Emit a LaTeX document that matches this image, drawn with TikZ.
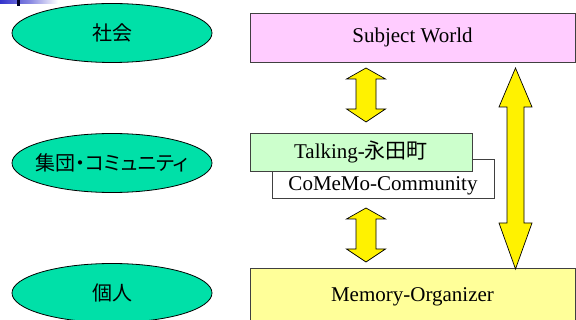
\documentclass[tikz,border=0pt]{standalone}
\usepackage{fontspec}
\setmainfont{Liberation Serif}
\newfontfamily\jp[RawFeature=+palt]{Noto Sans CJK JP}
\definecolor{ellfill}{RGB}{0,224,168}
\definecolor{pinkfill}{RGB}{255,204,255}
\definecolor{greenfill}{RGB}{204,255,204}
\definecolor{yellowfill}{RGB}{255,255,153}
\definecolor{barblue}{RGB}{51,51,204}
\usetikzlibrary{shapes.geometric}
\begin{document}
\begin{tikzpicture}[x=1pt,y=-1pt,
  level/.style={ellipse, draw=black, line width=0.8pt, fill=ellfill,
    minimum width=200pt, minimum height=59pt, inner sep=0pt,
    font=\jp\fontsize{20}{23}\selectfont},
  tbox/.style={draw=black!75, line width=0.8pt, inner sep=0pt,
    font=\fontsize{21}{24}\selectfont},
  barrow/.style={draw=black, line width=0.7pt, fill=yellow, line join=miter}]
\useasboundingbox (0,0) rectangle (576,320);
\fill[white] (0,0) rectangle (576,320);
% top-left decoration
\shade[left color=barblue, right color=white, middle color=barblue!60] (0,0) rectangle (58,3.3);
\fill[black!85!blue] (17,0) rectangle (20,6);
% ellipses
\node[level] (soc) at (112,33) {\makebox[0pt]{社会}};
\node[level] (grp) at (112,163) {\makebox[0pt]{集団・コミュニティ}};
\node[level] (ind) at (112,293) {\makebox[0pt]{個人}};
% boxes
\node[tbox, fill=pinkfill, minimum width=325pt, minimum height=49pt] (subj) at (412.5,37.5) {Subject World};
\node[tbox, fill=white, minimum width=222pt, minimum height=39pt, anchor=north west] (comemo) at (272,159) {};
\node[font=\fontsize{21}{24}\selectfont, anchor=base] (comemotxt) at (383,191) {CoMeMo-Community};
\node[tbox, fill=greenfill, minimum width=222pt, minimum height=38pt] (talk) at (361,152) {Talking-{\jp 永田町}};
\node[tbox, fill=yellowfill, minimum width=325pt, minimum height=60pt, anchor=north west] (mem) at (250,268) {};
\node[font=\fontsize{21}{24}\selectfont] (memtxt) at (412.5,297) {Memory-Organizer};
% block arrows
\draw[barrow] (366,68) -- (385.5,79) -- (376,79) -- (376,109) -- (385.5,109) -- (366,122)
  -- (346.5,109) -- (356,109) -- (356,79) -- (346.5,79) -- cycle;
\draw[barrow] (366,208) -- (385.5,219) -- (376,219) -- (376,249) -- (385.5,249) -- (366,262)
  -- (346.5,249) -- (356,249) -- (356,219) -- (346.5,219) -- cycle;
\draw[barrow] (515.5,68) -- (532,107) -- (524,107) -- (524,223) -- (532,223) -- (515.5,269)
  -- (499,223) -- (507,223) -- (507,107) -- (499,107) -- cycle;
\end{tikzpicture}
\end{document}
